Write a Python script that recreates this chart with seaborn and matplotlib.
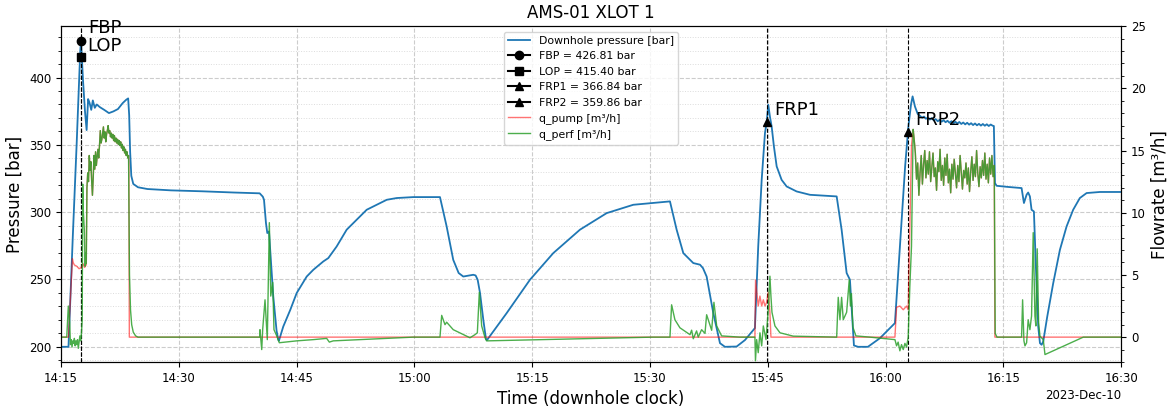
import matplotlib
matplotlib.use("Agg")
import matplotlib.pyplot as plt
import matplotlib.dates as mdates
from matplotlib.ticker import MultipleLocator
import pandas as pd
import seaborn as sns

START = pd.Timestamp("2023-12-10 14:15:00")
END_MIN = 135.0

# ---------------------------------------------------------------- pressure
# downhole pressure [bar]; times are minutes after 14:15
p_min = [0.00, 0.95, 1.50, 2.00, 2.30, 2.45, 2.55, 2.80, 3.05, 3.26, 3.45, 3.62,
         3.85, 4.05, 4.30, 4.55, 4.95, 5.50, 6.10, 6.65, 7.25, 7.85, 8.30, 8.55,
         8.68, 8.80, 8.95, 9.20, 9.80, 11.0, 14.0, 18.0, 22.0, 25.30, 25.55, 25.70,
         25.85, 26.10, 26.27, 26.49, 26.61, 27.03, 27.45, 27.67, 27.75, 28.30, 29.20,
         30.01, 31.29, 32.13, 33.40, 34.04, 35.10, 36.38, 37.22, 38.93, 40.20, 41.48,
         42.75, 44.86, 48.26, 49.11, 49.95, 50.64, 51.23, 52.50, 52.80, 53.06, 53.36,
         53.78, 54.12, 54.25, 56.75, 59.72, 62.69, 66.09, 69.49, 72.88, 77.55, 78.40,
         79.25, 80.52, 81.37, 81.75, 82.22, 83.07, 83.92, 84.55, 86.04, 87.10, 88.37,
         88.79, 89.23, 89.65, 89.86, 90.07, 90.28, 90.50, 90.79, 91.14, 91.77, 92.41,
         93.68, 95.38, 98.78, 99.41, 100.05, 100.47, 100.73, 100.98, 101.50, 102.76,
         104.29, 106.20, 107.50, 107.92, 108.25, 108.45, 108.75, 109.10,
         109.40, 109.65, 109.90, 110.15, 110.40, 110.65, 110.90, 111.15, 111.40,
         111.65, 111.90, 112.15, 112.40, 112.65, 112.90, 113.15, 113.40, 113.65,
         113.90, 114.15, 114.40, 114.65, 114.90, 115.15, 115.40, 115.65, 115.90,
         116.15, 116.40, 116.65, 116.90, 117.15, 117.40, 117.65, 117.90, 118.15,
         118.40, 118.65, 118.80, 118.94, 119.15, 120.50, 122.33, 122.63, 122.97,
         123.17, 123.39, 123.60, 123.90, 124.15, 124.45, 124.67, 124.88, 125.09,
         125.60, 126.36, 127.21, 128.06, 128.90, 129.75, 130.61, 132.30, 135.00]
p_bar = [200.0, 200.0, 282.0, 352.0, 398.0, 420.0, 426.81, 398.0, 375.0, 361.0, 384.0, 381.5,
         376.0, 383.0, 377.5, 380.0, 378.0, 376.0, 373.6, 374.8, 376.6, 381.0, 383.5, 384.5,
         372.0, 345.0, 327.0, 321.0, 318.5, 317.2, 316.2, 315.5, 314.6, 314.0, 312.5, 311.5,
         309.2, 291.9, 284.5, 285.7, 274.5, 237.4, 212.0, 205.2, 204.5, 215.0, 227.5,
         239.9, 252.2, 257.2, 263.4, 265.9, 274.5, 287.0, 291.9, 301.8, 305.5, 309.2,
         310.5, 311.2, 311.2, 289.4, 264.6, 254.8, 252.2, 253.5, 253.0, 249.8, 240.0,
         220.0, 205.7, 205.0, 225.0, 249.8, 269.6, 287.0, 299.3, 305.5, 308.0, 287.0,
         269.6, 262.2, 261.0, 258.5, 252.2, 225.0, 202.7, 200.0, 200.2, 205.0, 213.9,
         274.5, 324.0, 358.8, 366.5, 379.8, 371.0, 363.7, 348.8, 334.0, 324.0, 319.1,
         315.4, 312.9, 311.7, 287.0, 254.8, 249.8, 225.0, 201.0, 200.0, 200.0,
         206.4, 217.6, 334.0, 364.0, 380.0, 386.0, 378.5, 373.0,
         371.5, 370.2, 371.0, 369.4, 370.3, 368.8, 369.9, 368.2, 369.1,
         367.5, 368.6, 367.2, 368.3, 366.8, 367.9, 366.4, 367.6, 366.0,
         367.2, 365.8, 367.0, 365.5, 366.6, 365.2, 366.4, 365.0, 366.1,
         364.7, 365.9, 364.5, 365.6, 364.3, 365.5, 364.2, 365.3, 364.0,
         365.1, 364.2, 364.0, 321.6, 319.6, 318.8, 317.9, 306.8, 313.0,
         314.6, 311.7, 301.8, 300.5, 259.7, 215.0, 202.7, 201.5, 204.0,
         222.5, 247.3, 272.0, 289.4, 301.8, 310.5, 314.2, 315.0, 315.0]

# ---------------------------------------------------------------- flow rates
# injection stage 1: pump and perforation rates coincide [m3/h]
stage1_min = [3.30, 3.40, 3.50, 3.60, 3.70, 3.80, 3.90, 4.00, 4.10, 4.20, 4.30, 4.40,
              4.50, 4.60, 4.70, 4.80, 4.90, 5.00, 5.10, 5.20, 5.30, 5.40, 5.50, 5.60,
              5.70, 5.80, 5.90, 6.00, 6.10, 6.20, 6.30, 6.40, 6.50, 6.60, 6.70, 6.80,
              6.90, 7.00, 7.10, 7.20, 7.30, 7.40, 7.50, 7.60, 7.70, 7.80, 7.90, 8.00,
              8.10, 8.20, 8.30, 8.40, 8.50, 8.60]
stage1_q = [12.0, 13.2, 12.5, 14.6, 13.4, 14.1, 12.6, 11.4, 12.8, 14.6, 13.5, 14.9,
            13.8, 14.5, 15.1, 14.4, 15.4, 16.6, 15.6, 15.9, 16.4, 16.9, 16.0, 16.5,
            15.7, 16.3, 16.6, 17.0, 16.4, 16.6, 16.1, 16.4, 16.0, 16.3, 15.8, 16.2,
            15.7, 16.0, 15.6, 15.9, 15.5, 15.8, 15.4, 15.7, 15.2, 15.5, 15.0, 15.3,
            14.8, 15.1, 14.6, 14.9, 14.4, 14.6]

# injection stage 3 (after FRP2)
stage2_min = [108.52, 108.65, 108.80, 108.95, 109.10, 109.25,
              109.40, 109.55, 109.70, 109.85, 110.00, 110.15, 110.30, 110.45, 110.60,
              110.75, 110.90, 111.05, 111.20, 111.35, 111.50, 111.65, 111.80, 111.95,
              112.10, 112.25, 112.40, 112.55, 112.70, 112.85, 113.00, 113.15, 113.30,
              113.45, 113.60, 113.75, 113.90, 114.05, 114.20, 114.35, 114.50, 114.65,
              114.80, 114.95, 115.10, 115.25, 115.40, 115.55, 115.70, 115.85, 116.00,
              116.15, 116.30, 116.45, 116.60, 116.75, 116.90, 117.05, 117.20, 117.35,
              117.50, 117.65, 117.80, 117.95, 118.10, 118.25, 118.40, 118.55, 118.70,
              118.85]
stage2_q = [16.7, 15.9, 14.8, 12.7, 14.0, 11.4,
            13.2, 14.6, 12.3, 13.9, 15.0, 12.8, 14.2, 13.1, 14.9,
            12.5, 13.7, 14.8, 12.9, 13.6, 11.8, 14.1, 13.3, 15.1,
            12.6, 13.8, 12.2, 14.4, 13.0, 14.7, 12.4, 13.5, 11.6,
            13.9, 12.7, 14.3, 13.1, 12.0, 13.8, 12.5, 14.6, 13.2,
            11.9, 13.4, 12.8, 14.0, 12.3, 13.6, 11.7, 13.3, 14.5,
            12.6, 13.9, 12.9, 15.0, 13.2, 12.1, 13.7, 12.8, 14.2,
            13.0, 14.8, 12.7, 13.9, 12.4, 14.4, 13.1, 14.6, 12.9,
            13.8]

# pump rate outside the main stages
pump_pre1_min = [0.00, 0.95, 1.45, 1.55, 1.70, 2.00, 2.30, 2.60, 2.80, 3.00, 3.20]
pump_pre1_q = [0.0, 0.0, 6.3, 6.0, 5.8, 5.7, 5.5, 5.6, 5.9, 5.6, 5.8]
pump_cyc2_min = [8.64, 8.70, 88.37, 88.45, 88.79, 89.01, 89.23, 89.44, 89.65, 89.86,
                 90.07, 90.28, 90.41, 106.20, 106.41, 106.83, 107.26, 107.68, 107.89,
                 108.31]
pump_cyc2_q = [14.0, 0.0, 0.0, 4.6, 2.5, 3.3, 2.5, 3.0, 2.5, 2.8,
               3.6, 2.0, 0.0, 0.0, 2.4, 2.5, 2.2, 2.5, 2.2,
               15.4]
pump_post_min = [118.93, 135.00]
pump_post_q = [0.0, 0.0]

# perforation rate outside the main stages
perf_pre1_min = [0.00, 0.73, 0.93, 1.10, 1.20, 1.30, 1.40, 1.50, 1.60, 1.70, 1.80, 1.90,
                 2.00, 2.10, 2.20, 2.30, 2.40, 2.50, 2.60, 2.70, 2.76, 2.85, 2.97, 3.06,
                 3.14, 3.22]
perf_pre1_q = [0.0, 0.0, 2.5, 1.2, -0.6, -0.2, -0.8, -0.3, -0.5, -0.1, -0.7, -0.3,
               -0.6, -0.2, -0.9, -0.4, 0.1, -0.3, 0.3, 1.4, 12.3, 10.0, 8.6, 5.7,
               6.8, 5.9]
perf_mid_min = [8.66, 8.72, 8.85, 9.00, 9.20, 9.50, 9.80,
                25.30, 25.34, 25.56, 25.68, 25.98, 26.27, 26.53, 26.71, 26.96, 27.12,
                27.47, 27.80, 30.01, 32.13, 33.83, 34.17, 34.67, 44.86, 48.26, 48.48,
                48.90, 49.11, 49.95, 52.08, 52.72, 53.02, 53.27, 53.57, 54.00, 54.20,
                75.40, 77.55, 77.76, 78.18, 78.82, 80.10, 80.31, 80.52, 80.94, 81.15,
                81.58, 82.01, 82.22, 82.55, 82.86, 83.15, 83.50, 84.13, 86.46, 88.37,
                88.44, 88.59, 88.79, 89.01, 89.23, 89.44, 89.78, 90.07, 90.28, 90.41,
                90.54, 90.92, 91.56, 93.25, 98.78, 98.98, 99.20, 99.41, 99.62, 100.05,
                100.38, 100.53, 100.66, 100.85, 101.23, 103.02, 106.20, 106.41, 106.61,
                106.83, 107.04, 107.26, 107.47, 107.68, 107.89, 108.10, 108.31]
perf_mid_q = [10.0, 5.0, 2.2, 1.0, 0.4, 0.1, 0.0,
              0.0, 0.6, -1.0, 0.6, 3.0, -0.2, 9.2, 3.3, 4.4, 0.6,
              0.1, -0.45, -0.3, -0.2, -0.1, -0.4, -0.3, 0.0, 0.0, 1.75,
              1.0, 1.2, 0.6, -0.05, 0.2, 0.35, 3.6, 0.9, -0.05, -0.3,
              0.0, 0.0, 2.6, 1.4, 0.75, 0.2, 0.56, -0.13, 0.5, 0.0,
              0.6, 0.3, 1.8, 1.16, 0.55, 2.8, 0.9, 0.1, 0.0, 0.0,
              -1.9, -0.2, -1.25, 0.35, -0.7, 0.9, -0.2, 2.2, 4.9, 3.3,
              2.0, 0.9, 0.35, 0.08, 0.0, 3.2, 1.4, 3.2, 1.4, 2.0,
              4.6, 2.5, 3.5, 0.8, 0.1, 0.0, -0.2, -0.7, -0.4,
              -1.1, -0.6, -1.0, -0.5, -0.8, 0.0, 4.1, 7.3]
perf_post_min = [118.97, 119.20, 122.33, 122.46, 122.63, 122.76, 122.97, 123.17, 123.39,
                 123.60, 123.81, 124.03, 124.15, 124.32, 124.50, 124.67, 125.09, 125.31,
                 130.19, 135.00]
perf_post_q = [0.3, 0.0, 0.0, 3.0, -0.3, -0.7, -0.45, 1.4, 0.6,
               1.7, 8.4, 1.7, 0.9, 7.1, 1.16, 0.08, -0.2, -1.4,
               0.0, 0.0]

# ---------------------------------------------------------------- picks
picks = ["FBP", "LOP", "FRP1", "FRP2"]
pick_min = [2.55, 2.49, 89.90, 107.86]
pick_bar = [426.81, 415.40, 366.84, 359.86]
pick_marker = ["o", "s", "^", "^"]
# label offsets in points (right, up) from the picked point
pick_offset = [(5, 6), (5, 4.5), (5, 5), (5, 5)]


def to_time(minutes):
    return START + pd.to_timedelta(pd.Series(minutes, dtype=float), unit="min")


q_pump_min = pump_pre1_min + stage1_min + pump_cyc2_min + stage2_min + pump_post_min
q_pump = pump_pre1_q + stage1_q + pump_cyc2_q + stage2_q + pump_post_q
q_perf_min = perf_pre1_min + stage1_min + perf_mid_min + stage2_min + perf_post_min
q_perf = perf_pre1_q + stage1_q + perf_mid_q + stage2_q + perf_post_q

fig, ax = plt.subplots(figsize=(11.69, 4.08), dpi=100)
fig.subplots_adjust(left=0.0522, right=0.959, top=0.936, bottom=0.1127)
ax2 = ax.twinx()

sns.lineplot(x=to_time(p_min), y=p_bar, ax=ax, color="tab:blue", linewidth=1.3,
             estimator=None, sort=False, legend=False, label="Downhole pressure [bar]")

for name, t, p, m, off in zip(picks, pick_min, pick_bar, pick_marker, pick_offset):
    tt = to_time([t])
    sns.lineplot(x=tt, y=[p], ax=ax, color="k", marker=m, markersize=6,
                 markeredgecolor="k", markeredgewidth=1, estimator=None,
                 legend=False, label=f"{name} = {p:.2f} bar")
    ax.axvline(tt.iloc[0], color="k", linestyle="--", linewidth=0.8)
    ax.annotate(name, (tt.iloc[0], p), xytext=off, textcoords="offset points",
                fontsize=13)

sns.lineplot(x=to_time(q_pump_min), y=q_pump, ax=ax2, color="red", alpha=0.55,
             linewidth=1.0, estimator=None, sort=False, legend=False,
             label="q_pump [m³/h]")
sns.lineplot(x=to_time(q_perf_min), y=q_perf, ax=ax2, color="tab:green", alpha=0.85,
             linewidth=1.0, estimator=None, sort=False, legend=False,
             label="q_perf [m³/h]")

ax.set_xlim(START, START + pd.Timedelta(minutes=END_MIN))
ax.set_ylim(188.7, 438.2)
ax2.set_ylim(-2, 25)

locator = mdates.MinuteLocator(byminute=[0, 15, 30, 45])
ax.xaxis.set_major_locator(locator)
ax.xaxis.set_major_formatter(mdates.ConciseDateFormatter(locator))
ax.yaxis.set_major_locator(MultipleLocator(50))
ax.yaxis.set_minor_locator(MultipleLocator(10))
ax2.yaxis.set_major_locator(MultipleLocator(5))
ax2.yaxis.set_minor_locator(MultipleLocator(1))

ax.grid(which="major", linestyle="--", linewidth=0.8, color="#cccccc")
ax.grid(which="minor", linestyle=":", linewidth=0.7, color="#dcdcdc")
ax.set_axisbelow(True)

ax.tick_params(labelsize=8.5)
ax2.tick_params(labelsize=8.5)
ax.xaxis.get_offset_text().set_fontsize(8.5)

ax.set_title("AMS-01 XLOT 1", fontsize=12)
ax.set_xlabel("Time (downhole clock)", fontsize=12)
ax.set_ylabel("Pressure [bar]", fontsize=12)
ax2.set_ylabel("Flowrate [m³/h]", fontsize=12)

h1, l1 = ax.get_legend_handles_labels()
h2, l2 = ax2.get_legend_handles_labels()
ax2.legend(h1 + h2, l1 + l2, loc="upper center", fontsize=7.8)

fig.savefig("out.png", dpi=100)
